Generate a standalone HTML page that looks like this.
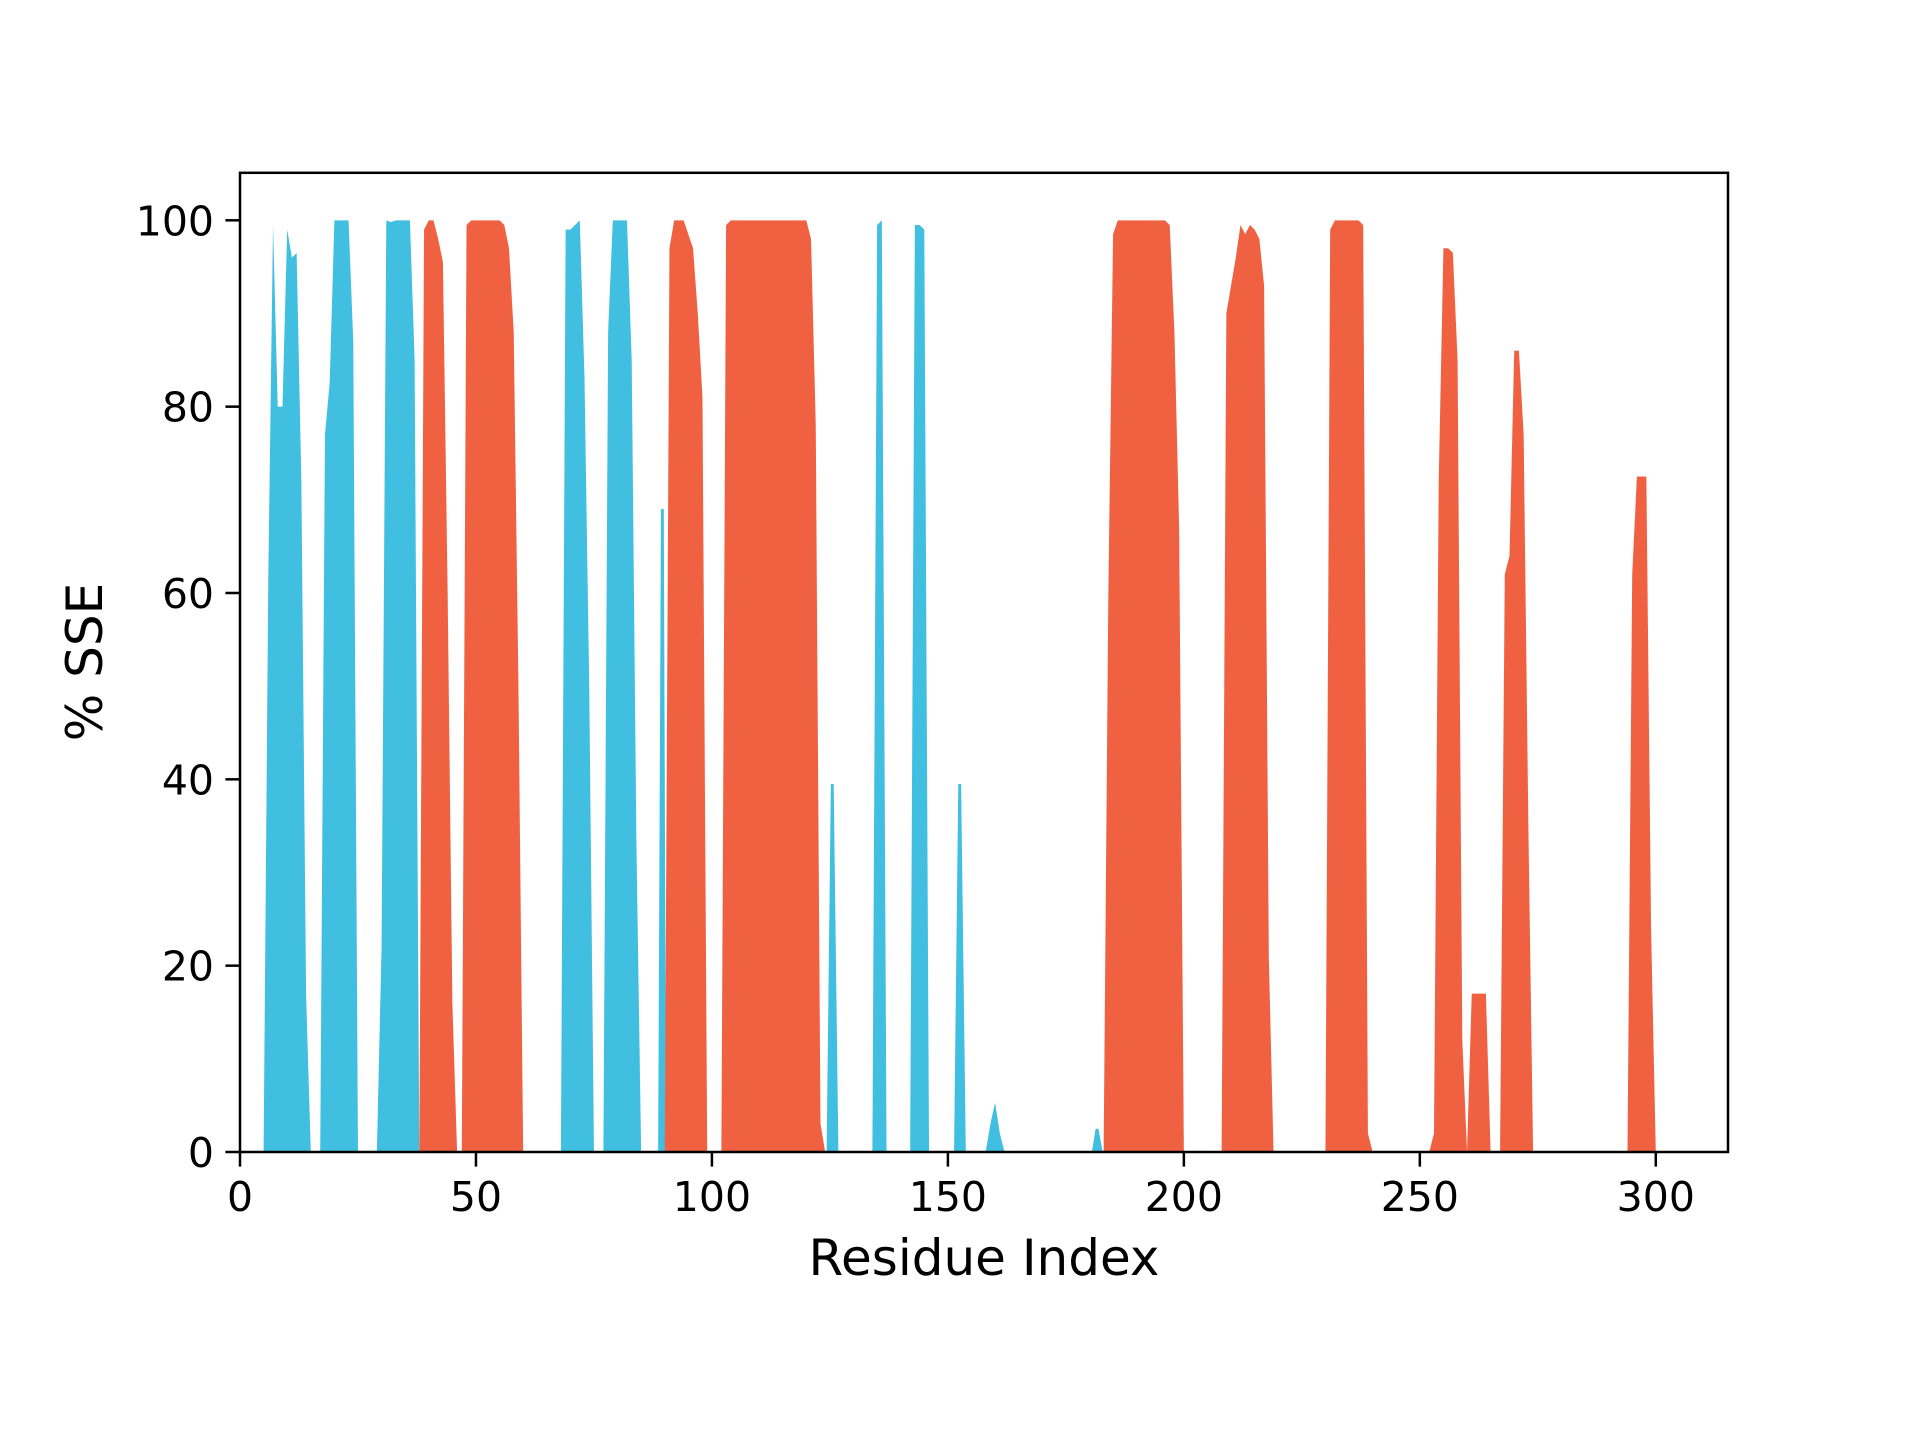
<!DOCTYPE html>
<html><head><meta charset="utf-8"><style>
html,body{margin:0;padding:0;background:#fff;}
svg{display:block;font-family:"DejaVu Sans","Liberation Sans",sans-serif;}
</style></head><body>
<svg id="chart" width="1920" height="1440" viewBox="0 0 1920 1440">
<rect width="1920" height="1440" fill="#fff"/>
<g id="marks"></g>
<g id="axes"></g>
</svg>
<script>
const strandRes = [5,6,7,8,9,10,11,12,13,14,15, 17,18,19,20,21,22,23,24,25, 29,30,31,32,33,34,35,36,37,38, 68,69,70,71,72,73,74,75, 77,78,79,80,81,82,83,84,85, 88.6,89.2,89.8,90.3, 124.3,125.2,125.8,126.8, 134,135,136,137, 142,143,144,145,146, 151.3,152.2,152.8,153.8, 158,159,160,161,162, 180.5,181.3,181.9,182.8];
const strandVal = [0,62,99.5,80,80,99,96,96.5,72,17,0, 0,77,82.5,100,100,100,100,87,0, 0,22,100,99.8,100,100,100,100,85,0, 0,99,99,99.5,100,83,50,0, 0,88,100,100,100,100,85,33,0, 0,69,69,0, 0,39.5,39.5,0, 0,99.5,100,0, 0,99.5,99.5,99,0, 0,39.5,39.5,0, 0,3,5.3,2,0, 0,2.5,2.5,0];
const helixRes = [38,39,40,41,42,43,44,45,46, 47,48,49,50,51,52,53,54,55,56,57,58,59,60, 90,91,92,93,94,95,96,97,98,99, 102,103,104,105,106,107,108,109,110,111,112,113,114,115,116,117,118,119,120,121,122,123,124, 183,184,185,186,187,188,189,190,191,192,193,194,195,196,197,198,199,200, 208,209,210,211,212,213,214,215,216,217,218,219, 230,231,232,233,234,235,236,237,238,239,240, 252,253,254,255,256,257,258,259,260, 261,262,263,264,265, 267,268,269,270,271,272,273,274, 294,295,296,297,298,299,300];
const helixVal = [0,99,100,100,98,95.5,60,16,0, 0,99.5,100,100,100,100,100,100,100,99.5,97,88,50,0, 0,97,100,100,100,98.5,97,90,81,0, 0,99.5,100,100,100,100,100,100,100,100,100,100,100,100,100,100,100,100,100,98,78,3,0, 0,60,98.5,100,100,100,100,100,100,100,100,100,100,100,99.5,88,67,0, 0,90,93,96,99.5,98.5,99.5,99,98,93,21,0, 0,99,100,100,100,100,100,100,99.5,2,0, 0,2,72,97,97,96.5,85,12,0, 17,17,17,17,0, 0,62,64,86,86,77,35,0, 0,62,72.5,72.5,72.5,24,0];
const xTicks = [0,50,100,150,200,250,300];
const yTicks = [0,20,40,60,80,100];

const L=240, R=1728, T=172.8, B=1152, XMAX=315.3, YMAX=105.1;
function xs(r){return L+(r/XMAX)*(R-L);}
function ys(v){return B-(v/YMAX)*(B-T);}
const NS="http://www.w3.org/2000/svg";
const marks=document.getElementById('marks');
const axes=document.getElementById('axes');

function areaPath(res,val){
  const pts=res.map((r,i)=>[r,val[i]]).sort((a,b)=>a[0]-b[0]);
  let d='M'+xs(pts[0][0]).toFixed(2)+','+ys(0).toFixed(2);
  pts.forEach(p=>{d+=' L'+xs(p[0]).toFixed(2)+','+ys(p[1]).toFixed(2);});
  d+=' L'+xs(pts[pts.length-1][0]).toFixed(2)+','+ys(0).toFixed(2)+' Z';
  return d;
}
const p1=document.createElementNS(NS,'path');
p1.setAttribute('d',areaPath(strandRes,strandVal));
p1.setAttribute('fill','#40bfe0');


marks.appendChild(p1);
const p2=document.createElementNS(NS,'path');
p2.setAttribute('d',areaPath(helixRes,helixVal));
p2.setAttribute('fill','#f06142');


marks.appendChild(p2);

const frame=document.createElementNS(NS,'rect');
frame.setAttribute('x',L);frame.setAttribute('y',T);
frame.setAttribute('width',R-L);frame.setAttribute('height',B-T);
frame.setAttribute('fill','none');frame.setAttribute('stroke','#000');frame.setAttribute('stroke-width','2.5');


axes.appendChild(frame);

xTicks.forEach(t=>{
  const l=document.createElementNS(NS,'line');
  l.setAttribute('x1',xs(t));l.setAttribute('x2',xs(t));l.setAttribute('y1',B);l.setAttribute('y2',B+14.6);
  l.setAttribute('stroke','#000');l.setAttribute('stroke-width','2.5');
  
  
  axes.appendChild(l);
  const tx=document.createElementNS(NS,'text');
  tx.setAttribute('x',xs(t));tx.setAttribute('y',B+59);
  tx.setAttribute('text-anchor','middle');tx.setAttribute('font-size','41');
  tx.textContent=t;
  
  
  axes.appendChild(tx);
});
yTicks.forEach(t=>{
  const l=document.createElementNS(NS,'line');
  l.setAttribute('x1',L-14.6);l.setAttribute('x2',L);l.setAttribute('y1',ys(t));l.setAttribute('y2',ys(t));
  l.setAttribute('stroke','#000');l.setAttribute('stroke-width','2.5');
  
  
  axes.appendChild(l);
  const tx=document.createElementNS(NS,'text');
  tx.setAttribute('x',L-26);tx.setAttribute('y',ys(t)+15);
  tx.setAttribute('text-anchor','end');tx.setAttribute('font-size','41');
  tx.textContent=t;
  
  
  axes.appendChild(tx);
});
</script>
<svg style="position:absolute;left:0;top:0" width="1920" height="1440">
<text x="984" y="1275" text-anchor="middle" font-size="50" font-family="DejaVu Sans, Liberation Sans, sans-serif">Residue Index</text>
<text x="0" y="0" transform="translate(102,662) rotate(-90)" text-anchor="middle" font-size="50" font-family="DejaVu Sans, Liberation Sans, sans-serif">% SSE</text>
</svg>
</body></html>
